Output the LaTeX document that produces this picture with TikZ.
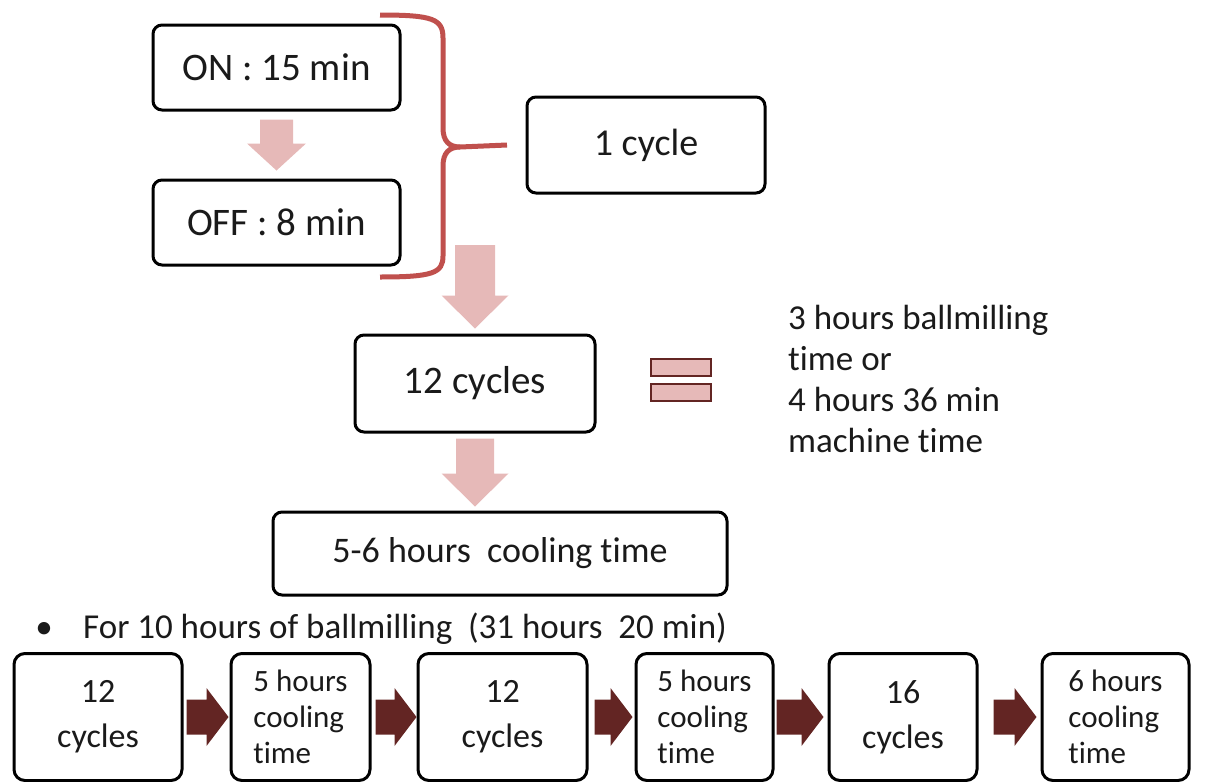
\documentclass[tikz,border=0pt]{standalone}
\usepackage{fontspec}
\setmainfont{Carlito}[Ligatures={NoCommon}]
\usetikzlibrary{calc}
\definecolor{pinkc}{HTML}{E6B9B8}
\definecolor{darkredc}{HTML}{632523}
\definecolor{bracec}{HTML}{C0504D}
\definecolor{txtc}{HTML}{1A1A1A}
% down block arrow: #1 colour, #2 start (top centre), #3 tip, #4 half shaft, #5 half head, #6 head length
\newcommand\dnblock[6]{%
  \fill[#1] ($(#2)+(-#4,0)$) -- ($(#2)+(#4,0)$) -- ($(#3)+(#4,-#6)$) -- ($(#3)+(#5,-#6)$) -- (#3)
    -- ($(#3)+(-#5,-#6)$) -- ($(#3)+(-#4,-#6)$) -- cycle;}
% right block arrow: #1 colour, #2 start (left centre), #3 tip, #4 half shaft, #5 half head, #6 head length
\newcommand\rtblock[6]{%
  \fill[#1] ($(#2)+(0,-#4)$) -- ($(#3)+(-#6,-#4)$) -- ($(#3)+(-#6,-#5)$) -- (#3)
    -- ($(#3)+(-#6,#5)$) -- ($(#3)+(-#6,#4)$) -- ($(#2)+(0,#4)$) -- cycle;}
\begin{document}
\begin{tikzpicture}[x=1pt,y=-1pt,
  box/.style={draw=black, line width=3pt, rounded corners=9pt, fill=white, inner sep=0pt,
    align=center, text=txtc},
  bigtxt/.style={font=\fontsize{39}{45}\selectfont},
  eqbar/.style={draw=darkredc, fill=pinkc, line width=2.5pt, inner sep=0pt,
    minimum width=60pt, minimum height=17pt},
  cyc/.style={box, rounded corners=11pt, minimum height=127pt, font=\fontsize{34}{45}\selectfont},
  cool/.style={box, rounded corners=11pt, minimum height=127pt, font=\fontsize{31}{36}\selectfont,
    align=left}
]
\useasboundingbox (0,0) rectangle (1208,782);

% top flow
\node[box, bigtxt, minimum width=247pt, minimum height=85pt] (on) at (276.5,67.5) {ON : 15 min};
\node[box, bigtxt, minimum width=247pt, minimum height=85pt] (off) at (276.5,222.5) {OFF : 8 min};
\node[box, font=\fontsize{38}{45}\selectfont, minimum width=238pt, minimum height=96pt] (cyc1) at (646,145) {1 cycle};
\node[box, bigtxt, minimum width=240pt, minimum height=97pt] (c12) at (475,383.5) {12 cycles};
\node[box, font=\fontsize{36}{42}\selectfont, minimum width=454pt, minimum height=83pt] (coolall) at (500,553.5) {5-6 hours~ cooling time};

% brace
\draw[bracec, line width=5pt]
  (380,15) .. controls (433,15) and (443,19) .. (443,38) -- (443,128)
  .. controls (443,141) and (449,147) .. (460,147) -- (cyc1.west -| 507,0);
\draw[bracec, line width=5pt]
  (460,147) .. controls (449,147) and (443,153) .. (443,166) -- (443,256)
  .. controls (443,273) and (433,277) .. (380,277);

% pink arrows
\coordinate (a1s) at ([yshift=-8pt]on.south);
\coordinate (a1e) at ([yshift=8pt]off.north);
\dnblock{pinkc}{a1s}{a1e}{16.5}{29.5}{27}
\coordinate (a2s) at (475,245);
\coordinate (a2e) at ([yshift=5pt]c12.north);
\dnblock{pinkc}{a2s}{a2e}{20}{33.5}{33}
\coordinate (a3s) at ([yshift=-5pt]c12.south);
\coordinate (a3e) at ($(c12.south |- coolall.north)+(0,-4)$);
\dnblock{pinkc}{a3s}{a3e}{19}{33.5}{33}

% equals sign
\node[eqbar] (eq1) at (681,367.5) {};
\node[eqbar] (eq2) at (681,392.5) {};

% note
\node[anchor=west, align=left, inner sep=0pt, text=txtc, font=\fontsize{35}{41}\selectfont] (note) at (788,379)
  {3 hours ballmilling\\time or\\4 hours 36 min\\machine time};

% bullet line
\node[anchor=base, inner sep=0pt, text=txtc, font=\fontsize{35}{41}\selectfont] (dot) at (44,638) {•};
\node[anchor=base west, inner sep=0pt, text=txtc, font=\fontsize{35}{41}\selectfont] (bul) at (83,638)
  {For 10 hours of ballmilling~ (31 hours~ 20 min)};

% bottom row
\node[cyc, minimum width=168pt] (b1) at (98,717) {12\\cycles};
\node[cool, minimum width=139pt] (b2) at (300.5,717) {5 hours\\cooling\\time};
\node[cyc, minimum width=169pt] (b3) at (502.5,717) {12\\cycles};
\node[cool, minimum width=137pt] (b4) at (704.5,717) {5 hours\\cooling\\time};
\node[cyc, minimum width=148pt] (b5) at (903,717) {16\\cycles};
\node[cool, minimum width=147pt] (b6) at (1115.5,717) {6 hours\\cooling\\time};

\coordinate (r1s) at ([xshift=3pt]b1.east);  \coordinate (r1e) at ([xshift=-1pt]b2.west);
\coordinate (r2s) at ([xshift=4pt]b2.east);  \coordinate (r2e) at (b3.west);
\coordinate (r3s) at ([xshift=6pt]b3.east);  \coordinate (r3e) at ([xshift=-2pt]b4.west);
\coordinate (r4s) at ([xshift=2pt]b4.east);  \coordinate (r4e) at ([xshift=-4pt]b5.west);
\coordinate (r5s) at ([xshift=15pt]b5.east); \coordinate (r5e) at ([xshift=-4pt]b6.west);
\rtblock{darkredc}{r1s}{r1e}{17.5}{29}{22}
\rtblock{darkredc}{r2s}{r2e}{17.5}{29}{22}
\rtblock{darkredc}{r3s}{r3e}{17.5}{29}{22}
\rtblock{darkredc}{r4s}{r4e}{17.5}{29}{22}
\rtblock{darkredc}{r5s}{r5e}{17.5}{29}{22}
\end{tikzpicture}
\end{document}
